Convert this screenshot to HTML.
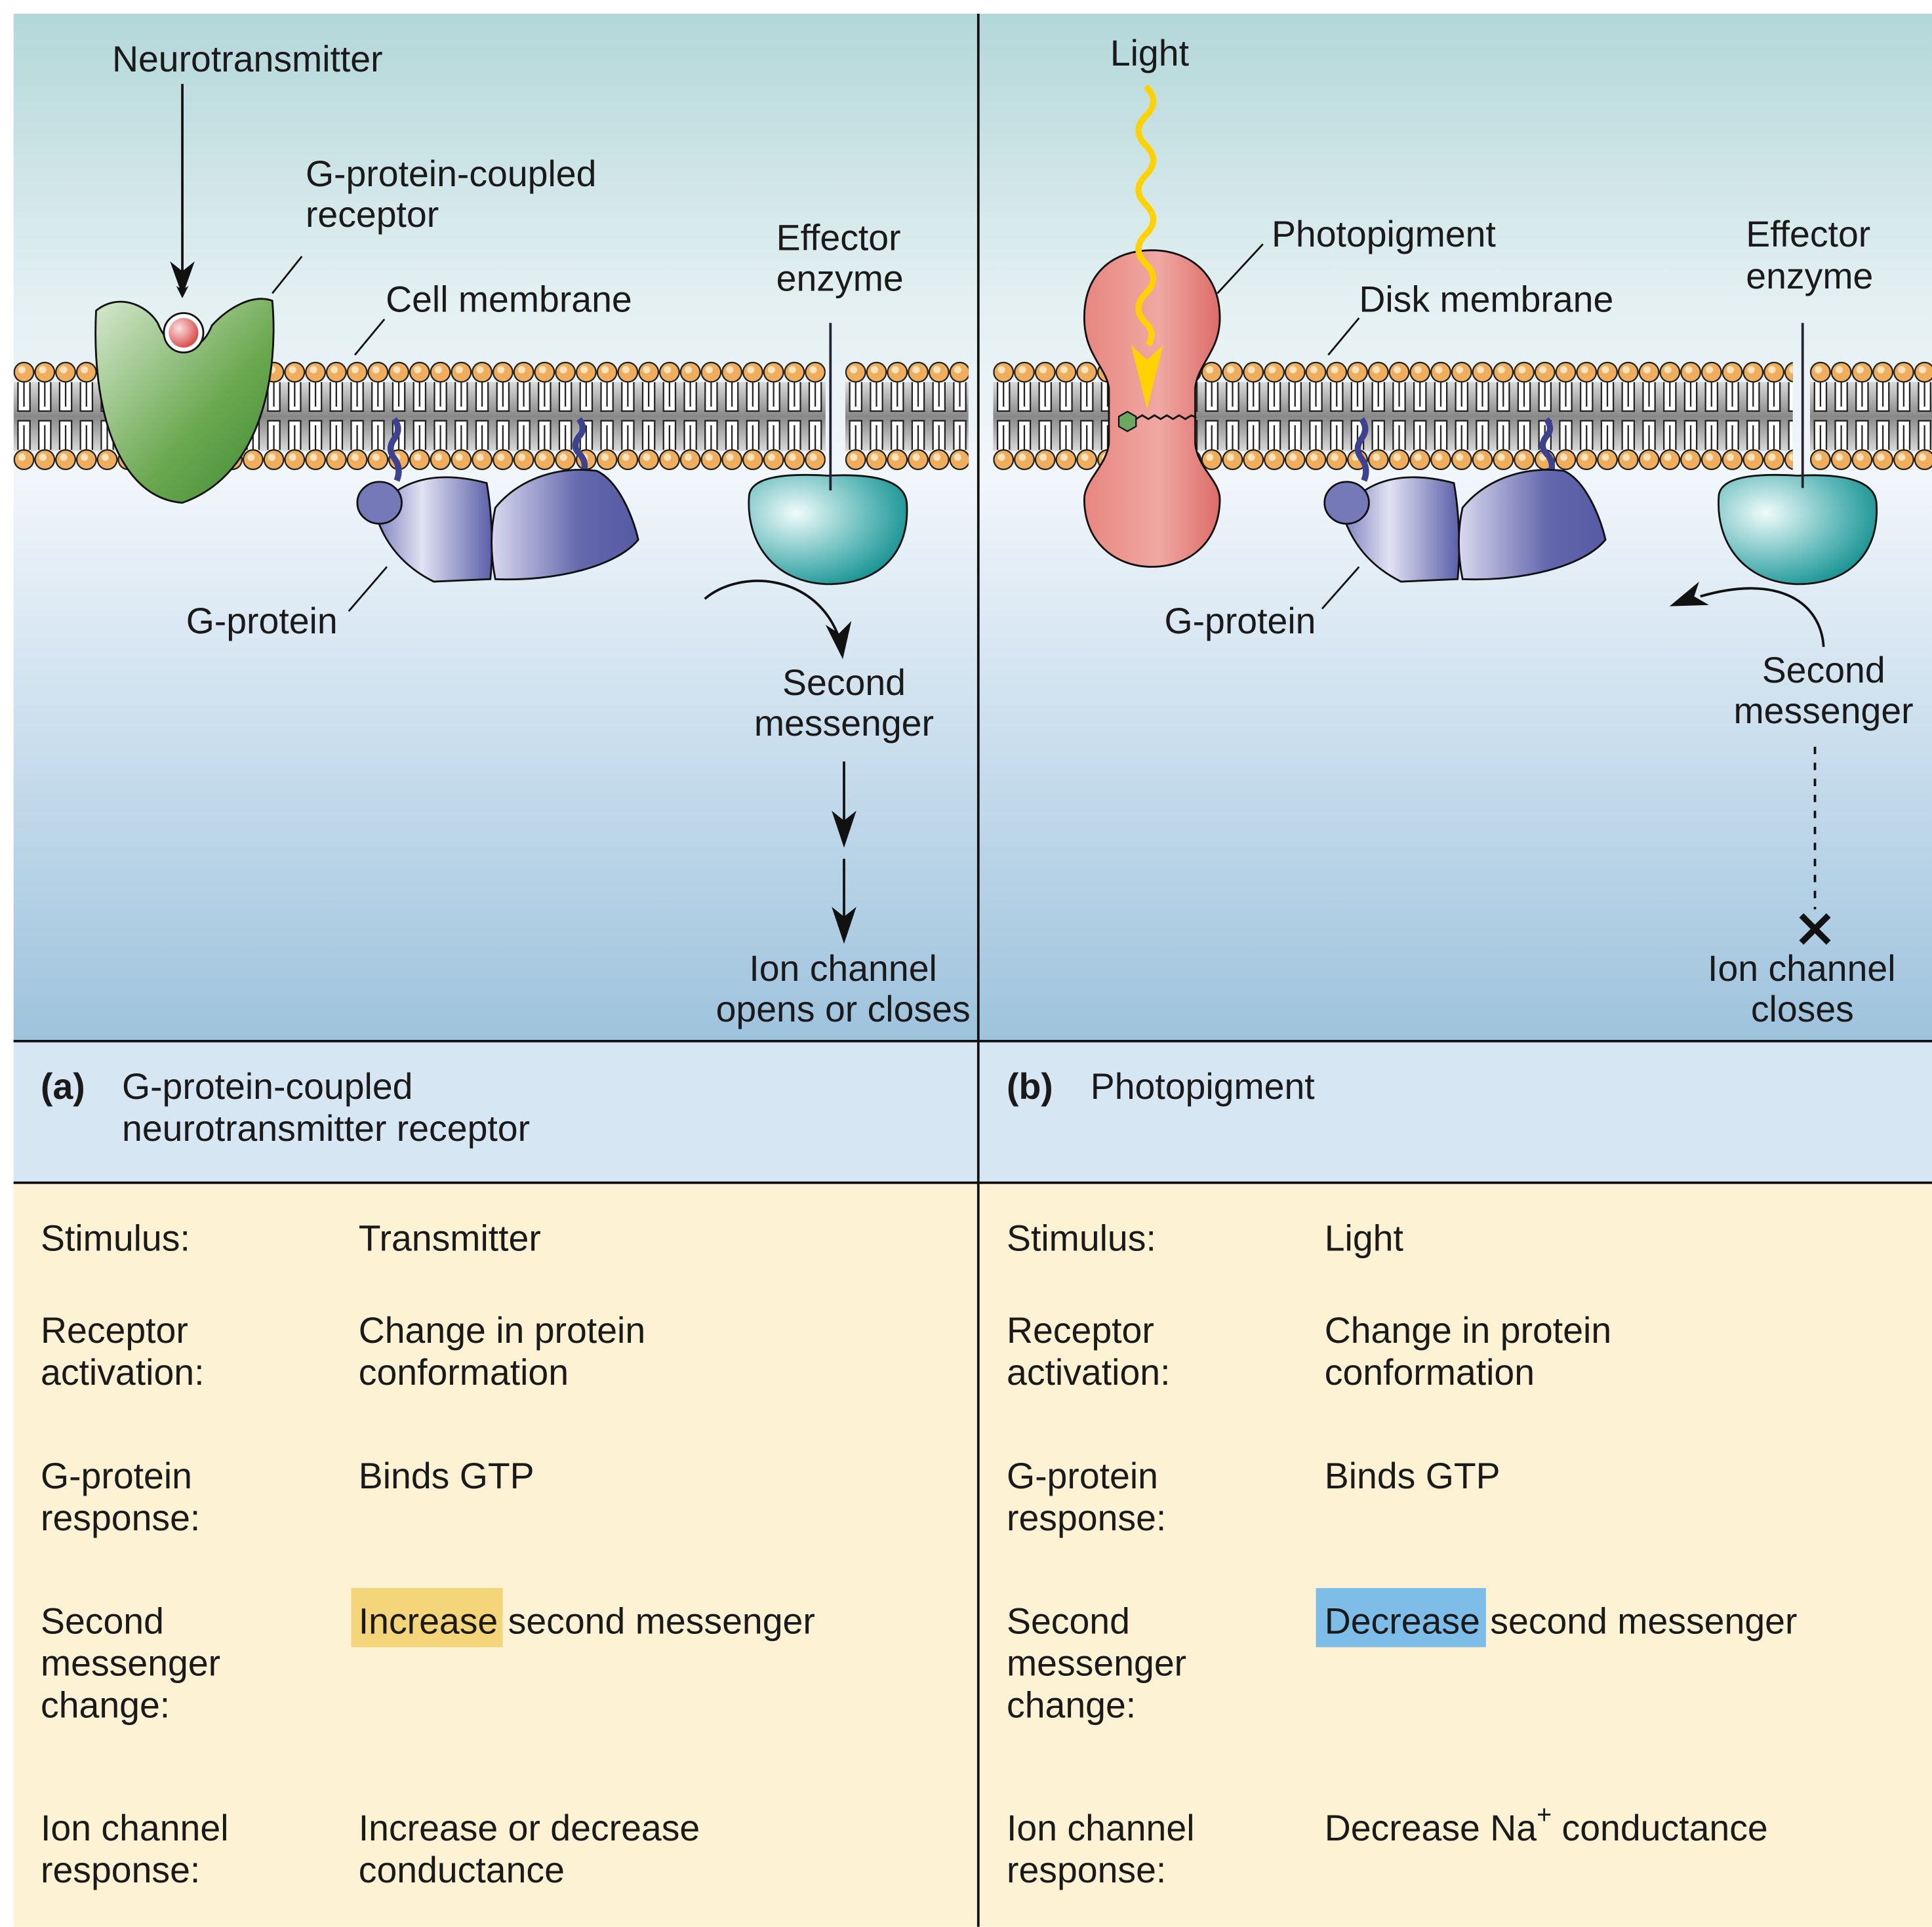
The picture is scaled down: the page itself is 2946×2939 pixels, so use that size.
<!DOCTYPE html>
<html><head><meta charset="utf-8"><style>
html,body{margin:0;padding:0;background:#fff;}
svg{display:block;}
text{font-family:"Liberation Sans",Arial,sans-serif;font-size:29.5px;fill:#1a1a1a;}
</style></head><body>
<svg width="2946" height="2939" viewBox="0 0 1568 1564" xmlns="http://www.w3.org/2000/svg">
<defs>
<linearGradient id="bg" x1="0" y1="0" x2="0" y2="1">
<stop offset="0" stop-color="#b3d7d9"/><stop offset="0.28" stop-color="#e4f0f2"/>
<stop offset="0.45" stop-color="#f1f6fb"/><stop offset="1" stop-color="#9ec3dd"/></linearGradient>
<linearGradient id="band" x1="0" y1="0" x2="0" y2="1">
<stop offset="0" stop-color="#d9d9d9"/><stop offset="0.5" stop-color="#888"/><stop offset="1" stop-color="#d9d9d9"/></linearGradient>
<linearGradient id="grn" x1="0" y1="0" x2="1" y2="1"><stop offset="0" stop-color="#d6e8cf"/><stop offset="0.6" stop-color="#6aa84f"/><stop offset="1" stop-color="#3e8a35"/></linearGradient>
<linearGradient id="blu" x1="0" y1="0" x2="1" y2="0"><stop offset="0" stop-color="#7d80bf"/><stop offset="0.4" stop-color="#e1e2f2"/><stop offset="1" stop-color="#5a5fa8"/></linearGradient>
<linearGradient id="blu2" x1="0" y1="0" x2="1" y2="0"><stop offset="0" stop-color="#d8d9ee"/><stop offset="0.6" stop-color="#6468ad"/><stop offset="1" stop-color="#555aa3"/></linearGradient>
<radialGradient id="teal" cx="0.3" cy="0.35" r="0.8"><stop offset="0" stop-color="#f0fbfb"/><stop offset="0.6" stop-color="#5fb8b8"/><stop offset="1" stop-color="#0a8a8a"/></radialGradient>
<linearGradient id="red" x1="0" y1="0" x2="1" y2="0"><stop offset="0" stop-color="#e88680"/><stop offset="0.55" stop-color="#f0a8a2"/><stop offset="1" stop-color="#dc6c68"/></linearGradient>
<radialGradient id="ball" cx="0.35" cy="0.35" r="0.7"><stop offset="0" stop-color="#fbe0e0"/><stop offset="1" stop-color="#d84848"/></radialGradient>
<marker id="ah" markerWidth="10" markerHeight="10" refX="8" refY="5" orient="auto" markerUnits="userSpaceOnUse" viewBox="0 0 10 10">
<path d="M0,0 L10,5 L0,10 L3,5Z" fill="#111"/></marker>
<g id="mem">
<rect x="0" y="310" width="800" height="56" fill="url(#band)"/>
<line x1="3.45" y1="322" x2="800" y2="322" stroke="#fff" stroke-width="24" stroke-dasharray="10 6.9"/>
<line x1="3.45" y1="353" x2="800" y2="353" stroke="#fff" stroke-width="24" stroke-dasharray="10 6.9"/>
<line x1="3.0" y1="322" x2="800" y2="322" stroke="#222" stroke-width="24" stroke-dasharray="1.2 8.5 1.2 6"/>
<line x1="3.0" y1="353" x2="800" y2="353" stroke="#222" stroke-width="24" stroke-dasharray="1.2 8.5 1.2 6"/>
<line x1="7.85" y1="320" x2="800" y2="320" stroke="#222" stroke-width="20" stroke-dasharray="1.2 15.7"/>
<line x1="7.85" y1="355" x2="800" y2="355" stroke="#222" stroke-width="20" stroke-dasharray="1.2 15.7"/>
<line x1="3.0" y1="333.6" x2="800" y2="333.6" stroke="#222" stroke-width="1.2" stroke-dasharray="10.9 6"/>
<line x1="3.0" y1="341.4" x2="800" y2="341.4" stroke="#222" stroke-width="1.2" stroke-dasharray="10.9 6"/>
<line x1="8.45" y1="302" x2="800" y2="302" stroke="#222" stroke-width="17" stroke-linecap="round" stroke-dasharray="0 16.9"/>
<line x1="8.45" y1="302" x2="800" y2="302" stroke="#f0ad5c" stroke-width="14.6" stroke-linecap="round" stroke-dasharray="0 16.9"/>
<line x1="6.8" y1="300" x2="800" y2="300" stroke="#fde3bd" stroke-width="6" stroke-linecap="round" stroke-dasharray="0 16.9"/>
<line x1="8.45" y1="373" x2="800" y2="373" stroke="#222" stroke-width="17" stroke-linecap="round" stroke-dasharray="0 16.9"/>
<line x1="8.45" y1="373" x2="800" y2="373" stroke="#f0ad5c" stroke-width="14.6" stroke-linecap="round" stroke-dasharray="0 16.9"/>
<line x1="6.8" y1="371" x2="800" y2="371" stroke="#fde3bd" stroke-width="6" stroke-linecap="round" stroke-dasharray="0 16.9"/>
</g>
<clipPath id="c1"><rect x="11" y="290" width="659" height="95"/></clipPath>
<clipPath id="c2"><rect x="686" y="290" width="100" height="95"/></clipPath>
<clipPath id="c3"><rect x="806" y="290" width="649" height="95"/></clipPath>
<clipPath id="c4"><rect x="1469" y="290" width="99" height="95"/></clipPath>
</defs>
<rect x="0" y="0" width="1568" height="1564" fill="#fff"/>
<rect x="11" y="11" width="1557" height="834" fill="url(#bg)"/>
<rect x="11" y="845" width="1557" height="115" fill="#d6e6f2"/>
<rect x="11" y="960" width="1557" height="604" fill="#fdf2d4"/>
<line x1="11" y1="845" x2="1568" y2="845" stroke="#111" stroke-width="2"/>
<line x1="11" y1="960" x2="1568" y2="960" stroke="#111" stroke-width="2"/>
<line x1="794" y1="11" x2="794" y2="1564" stroke="#111" stroke-width="2"/>

<g clip-path="url(#c1)"><use href="#mem" transform="translate(11,0)"/></g>
<g clip-path="url(#c2)"><use href="#mem" transform="translate(686,0)"/></g>
<g clip-path="url(#c3)"><use href="#mem" transform="translate(806,0)"/></g>
<g clip-path="url(#c4)"><use href="#mem" transform="translate(1469,0)"/></g>

<text x="91" y="58">Neurotransmitter</text>
<line x1="148" y1="68" x2="148" y2="240" stroke="#111" stroke-width="2" marker-end="url(#ah)"/>
<path d="M148,240 l-10,-28 l10,8 l10,-8z" fill="#111"/>
<text x="248" y="151">G-protein-coupled</text>
<text x="248" y="184">receptor</text>
<line x1="221" y1="238" x2="245" y2="208" stroke="#111" stroke-width="1.5"/>
<text x="313" y="253">Cell membrane</text>
<line x1="288" y1="288" x2="312" y2="259" stroke="#111" stroke-width="1.5"/>
<path d="M78,252 C95,238 118,246 128,262 C138,288 162,290 172,264 C185,250 205,238 221,244 C226,300 214,385 148,408 C95,404 74,330 78,252Z" fill="url(#grn)" stroke="#111" stroke-width="1.5"/>
<circle cx="149" cy="270" r="16" fill="#fff" stroke="#111" stroke-width="1.5"/>
<circle cx="149" cy="270" r="12" fill="url(#ball)"/>

<g id="gp">
<path d="M320,340 q6,8 0,16 q-6,8 0,16 q6,8 2,18" fill="none" stroke="#3d4290" stroke-width="5"/>
<path d="M470,340 q6,8 0,14 q-6,8 0,14 q6,6 4,14" fill="none" stroke="#3d4290" stroke-width="5"/>
<path d="M305,418 C318,392 350,380 395,392 C400,420 400,450 398,470 L352,472 C332,462 314,446 305,418Z" fill="url(#blu)" stroke="#111" stroke-width="1.5"/>
<path d="M402,412 C420,390 450,378 484,382 C502,390 514,420 518,438 C500,460 450,472 402,470 C398,450 398,430 402,412Z" fill="url(#blu2)" stroke="#111" stroke-width="1.5"/>
<ellipse cx="308" cy="408" rx="18" ry="17" fill="#7579b8" stroke="#111" stroke-width="1.5"/>
</g>
<text x="151" y="514">G-protein</text>
<line x1="283" y1="496" x2="314" y2="460" stroke="#111" stroke-width="1.5"/>

<text x="630" y="203">Effector</text>
<text x="630" y="236">enzyme</text>
<path d="M608,402 C610,386 640,384 672,386 C710,384 736,390 736,410 C738,452 710,475 670,474 C628,472 605,440 608,402Z" fill="url(#teal)" stroke="#111" stroke-width="1.5"/>
<line x1="674" y1="262" x2="674" y2="398" stroke="#223" stroke-width="2"/>
<path d="M572,486 C600,462 660,465 680,515" fill="none" stroke="#111" stroke-width="2"/>
<path d="M684,535 l-14,-28 l11,7 l10,-10z" fill="#111"/>
<text x="635" y="564">Second</text>
<text x="612" y="597">messenger</text>
<line x1="685" y1="618" x2="685" y2="668" stroke="#111" stroke-width="2"/>
<path d="M685,688 l-10,-30 l10,8 l10,-8z" fill="#111"/>
<line x1="685" y1="697" x2="685" y2="746" stroke="#111" stroke-width="2"/>
<path d="M685,766 l-10,-30 l10,8 l10,-8z" fill="#111"/>
<text x="608" y="796">Ion channel</text>
<text x="581" y="829">opens or closes</text>

<text x="33" y="892" style="font-weight:bold">(a)</text>
<text x="99" y="892">G-protein-coupled</text>
<text x="99" y="926">neurotransmitter receptor</text>

<text x="901" y="53">Light</text>
<path d="M880,258 C880,220 905,203 935,203 C965,203 990,222 990,258 C990,285 972,295 970,315 L970,360 C972,380 990,390 990,405 C990,440 965,460 935,460 C905,460 880,440 880,405 C880,390 898,378 900,360 L900,315 C898,298 880,288 880,258Z" fill="url(#red)" stroke="#111" stroke-width="1.5"/>
<path d="M930,70 q12,12 0,24 q-12,12 0,24 q12,12 0,24 q-12,12 0,24 q12,12 0,24 q-12,12 0,24 q12,12 0,24 q-12,12 0,24 q8,8 2,18" fill="none" stroke="#ffd200" stroke-width="5"/>
<path d="M931,332 l-13,-52 l13,12 l13,-12z" fill="#ffd200"/>
<polygon points="915,334 922,338 922,346 915,350 908,346 908,338" fill="#6aa860" stroke="#111" stroke-width="1.2"/>
<path d="M922,340 l5,-3 l5,3 l5,-3 l5,3 l5,-3 l5,3 l5,-3 l5,3 l5,-3 l4,2" fill="none" stroke="#111" stroke-width="1.5"/>
<text x="1032" y="200">Photopigment</text>
<line x1="988" y1="238" x2="1025" y2="198" stroke="#111" stroke-width="1.5"/>
<text x="1103" y="253">Disk membrane</text>
<line x1="1078" y1="288" x2="1103" y2="258" stroke="#111" stroke-width="1.5"/>
<use href="#gp" transform="translate(785,0)"/>
<text x="945" y="514">G-protein</text>
<line x1="1073" y1="494" x2="1103" y2="460" stroke="#111" stroke-width="1.5"/>

<text x="1417" y="200">Effector</text>
<text x="1417" y="234">enzyme</text>
<path d="M1395,402 C1397,386 1427,384 1459,386 C1497,384 1523,390 1523,410 C1525,452 1497,475 1457,474 C1415,472 1392,440 1395,402Z" fill="url(#teal)" stroke="#111" stroke-width="1.5"/>
<line x1="1463" y1="262" x2="1463" y2="396" stroke="#223" stroke-width="2"/>
<path d="M1480,525 C1478,490 1445,465 1380,484" fill="none" stroke="#111" stroke-width="2"/>
<path d="M1355,492 l24,-20 l-4,12 l12,7z" fill="#111"/>
<text x="1430" y="554">Second</text>
<text x="1407" y="587">messenger</text>
<line x1="1473" y1="606" x2="1473" y2="738" stroke="#111" stroke-width="2" stroke-dasharray="6,7"/>
<path d="M1462,743 L1484,765 M1484,743 L1462,765" stroke="#111" stroke-width="5"/>
<text x="1386" y="796">Ion channel</text>
<text x="1421" y="829">closes</text>

<text x="817" y="892" style="font-weight:bold">(b)</text>
<text x="885" y="892">Photopigment</text>

<rect x="285" y="1289" width="123" height="48" fill="#f5d57a"/>
<rect x="1068" y="1289" width="138" height="48" fill="#7dbde8"/>
<g>
<text x="33" y="1015">Stimulus:</text><text x="291" y="1015">Transmitter</text>
<text x="33" y="1090">Receptor</text><text x="33" y="1124">activation:</text>
<text x="291" y="1090">Change in protein</text><text x="291" y="1124">conformation</text>
<text x="33" y="1208">G-protein</text><text x="33" y="1242">response:</text>
<text x="291" y="1208">Binds GTP</text>
<text x="33" y="1326">Second</text><text x="33" y="1360">messenger</text><text x="33" y="1394">change:</text>
<text x="291" y="1326">Increase second messenger</text>
<text x="33" y="1494">Ion channel</text><text x="33" y="1528">response:</text>
<text x="291" y="1494">Increase or decrease</text><text x="291" y="1528">conductance</text>

<text x="817" y="1015">Stimulus:</text><text x="1075" y="1015">Light</text>
<text x="817" y="1090">Receptor</text><text x="817" y="1124">activation:</text>
<text x="1075" y="1090">Change in protein</text><text x="1075" y="1124">conformation</text>
<text x="817" y="1208">G-protein</text><text x="817" y="1242">response:</text>
<text x="1075" y="1208">Binds GTP</text>
<text x="817" y="1326">Second</text><text x="817" y="1360">messenger</text><text x="817" y="1394">change:</text>
<text x="1075" y="1326">Decrease second messenger</text>
<text x="817" y="1494">Ion channel</text><text x="817" y="1528">response:</text>
<text x="1075" y="1494">Decrease Na<tspan dy="-14" style="font-size:21px">+</tspan><tspan dy="14"> conductance</tspan></text>
</g>
</svg>
</body></html>
